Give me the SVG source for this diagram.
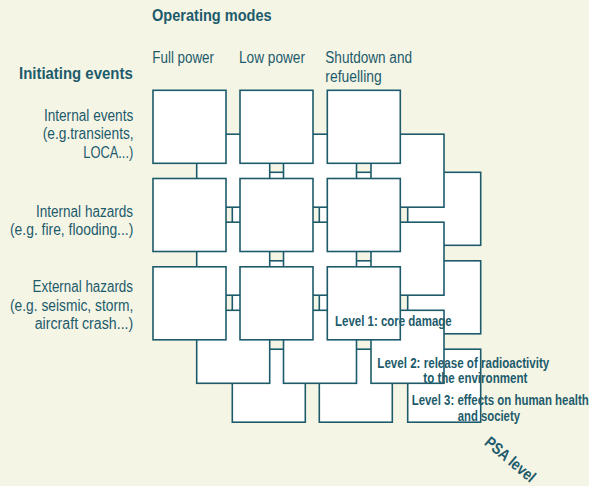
<svg xmlns="http://www.w3.org/2000/svg" width="589" height="486" viewBox="0 0 589 486">
  <style>
    .bg { fill: #f5f5e6; }
    .box { fill: #ffffff; stroke: #1d5b6b; stroke-width: 1.6; }
    text { font-family: "Liberation Sans", Arial, sans-serif; fill: #1d5b6b; }
    .h { font-weight: bold; font-size: 16.5px; }
    .r { font-size: 16px; }
    .lv { font-weight: bold; font-size: 14px; }
    .psa { font-weight: bold; font-size: 16px; }
    .end { text-anchor: end; }
  </style>
  <defs>
    <rect id="b" width="73" height="73" class="box"/>
  </defs>
  <rect class="bg" x="0" y="0" width="589" height="486"/>

  <g id="connectors"></g>

  <!-- Level 3 layer (back) -->
  <g id="level3">
    <g id="l3-r1c1"><use href="#b" x="232.3" y="172.3"/></g>
    <g id="l3-r1c2"><use href="#b" x="319.3" y="172.3"/></g>
    <g id="l3-r1c3"><use href="#b" x="407.7" y="172.3"/></g>
    <g id="l3-r2c1"><use href="#b" x="232.3" y="260.8"/></g>
    <g id="l3-r2c2"><use href="#b" x="319.3" y="260.8"/></g>
    <g id="l3-r2c3"><use href="#b" x="407.7" y="260.8"/></g>
    <g id="l3-r3c1"><use href="#b" x="232.3" y="349.2"/></g>
    <g id="l3-r3c2"><use href="#b" x="319.3" y="349.2"/></g>
    <g id="l3-r3c3"><use href="#b" x="407.7" y="349.2"/></g>
  </g>

  <!-- Level 2 layer (middle) -->
  <g id="level2">
    <g id="l2-r1c1"><use href="#b" x="196.7" y="134.2"/></g>
    <g id="l2-r1c2"><use href="#b" x="283.5" y="134.2"/></g>
    <g id="l2-r1c3"><use href="#b" x="371" y="134.2"/></g>
    <g id="l2-r2c1"><use href="#b" x="196.7" y="222.2"/></g>
    <g id="l2-r2c2"><use href="#b" x="283.5" y="222.2"/></g>
    <g id="l2-r2c3"><use href="#b" x="371" y="222.2"/></g>
    <g id="l2-r3c1"><use href="#b" x="196.7" y="310.3"/></g>
    <g id="l2-r3c2"><use href="#b" x="283.5" y="310.3"/></g>
    <g id="l2-r3c3"><use href="#b" x="371" y="310.3"/></g>
  </g>

  <!-- Level 1 layer (front) -->
  <g id="level1">
    <g id="l1-r1c1"><use href="#b" x="153" y="90.3"/></g>
    <g id="l1-r1c2"><use href="#b" x="240" y="90.3"/></g>
    <g id="l1-r1c3"><use href="#b" x="327.3" y="90.3"/></g>
    <g id="l1-r2c1"><use href="#b" x="153" y="178.5"/></g>
    <g id="l1-r2c2"><use href="#b" x="240" y="178.5"/></g>
    <g id="l1-r2c3"><use href="#b" x="327.3" y="178.5"/></g>
    <g id="l1-r3c1"><use href="#b" x="153" y="266.8"/></g>
    <g id="l1-r3c2"><use href="#b" x="240" y="266.8"/></g>
    <g id="l1-r3c3"><use href="#b" x="327.3" y="266.8"/></g>
  </g>

  <!-- Headings -->
  <g id="headings">
    <text class="h" x="152" y="21" textLength="119.7" lengthAdjust="spacingAndGlyphs">Operating modes</text>
    <text class="h" x="19" y="79" textLength="113.7" lengthAdjust="spacingAndGlyphs">Initiating events</text>
  </g>

  <!-- Column labels -->
  <g id="columns">
    <text class="r" x="152.3" y="62.7" textLength="61.7" lengthAdjust="spacingAndGlyphs">Full power</text>
    <text class="r" x="239" y="62.7" textLength="66" lengthAdjust="spacingAndGlyphs">Low power</text>
    <text class="r" x="325.3" y="62.7" textLength="86.7" lengthAdjust="spacingAndGlyphs">Shutdown and</text>
    <text class="r" x="325.3" y="81.7" textLength="56.4" lengthAdjust="spacingAndGlyphs">refuelling</text>
  </g>

  <!-- Row labels -->
  <g id="rows">
    <text class="r end" x="133.3" y="120.7" textLength="89.4" lengthAdjust="spacingAndGlyphs">Internal events</text>
    <text class="r end" x="133.7" y="139.3" textLength="91" lengthAdjust="spacingAndGlyphs">(e.g.transients,</text>
    <text class="r end" x="133.3" y="157.7" textLength="50" lengthAdjust="spacingAndGlyphs">LOCA...)</text>
    <text class="r end" x="133" y="216.7" textLength="97" lengthAdjust="spacingAndGlyphs">Internal hazards</text>
    <text class="r end" x="133.3" y="235" textLength="123.3" lengthAdjust="spacingAndGlyphs">(e.g. fire, flooding...)</text>
    <text class="r end" x="133" y="292.3" textLength="100.4" lengthAdjust="spacingAndGlyphs">External hazards</text>
    <text class="r end" x="133.3" y="310.7" textLength="123.3" lengthAdjust="spacingAndGlyphs">(e.g. seismic, storm,</text>
    <text class="r end" x="133.3" y="329" textLength="98.6" lengthAdjust="spacingAndGlyphs">aircraft crash...)</text>
  </g>

  <!-- Level labels -->
  <g id="levels">
    <text class="lv" x="335" y="326" textLength="116.7" lengthAdjust="spacingAndGlyphs">Level 1: core damage</text>
    <text class="lv" x="377.3" y="367.7" textLength="172" lengthAdjust="spacingAndGlyphs">Level 2: release of radioactivity</text>
    <text class="lv" x="423.3" y="383.3" textLength="104" lengthAdjust="spacingAndGlyphs">to the environment</text>
    <text class="lv" x="411.7" y="405" textLength="177" lengthAdjust="spacingAndGlyphs">Level 3: effects on human health</text>
    <text class="lv" x="457.7" y="420.7" textLength="62.3" lengthAdjust="spacingAndGlyphs">and society</text>
    <text class="psa" transform="translate(483.5 444) rotate(40)" x="0" y="0" textLength="61" lengthAdjust="spacingAndGlyphs">PSA level</text>
  </g>
</svg>
